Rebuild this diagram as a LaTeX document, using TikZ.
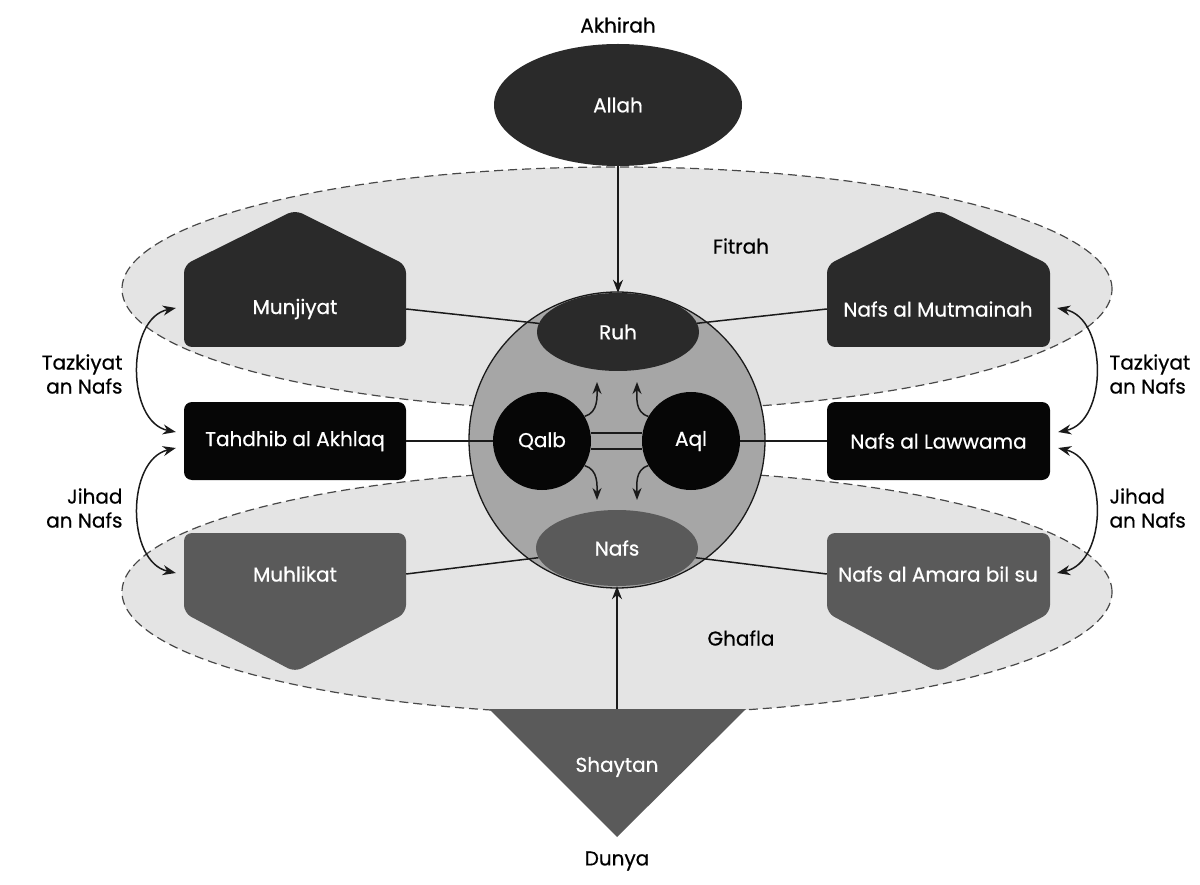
\documentclass[tikz,border=0pt]{standalone}
\usepackage{fontspec}
\setmainfont{Poppins}[FakeBold=0.6]
\usetikzlibrary{arrows.meta,shapes.geometric}
\definecolor{dk}{HTML}{2A2A2A}
\definecolor{bk}{HTML}{060606}
\definecolor{md}{HTML}{5A5A5A}
\definecolor{cg}{HTML}{A6A6A6}
\definecolor{lg}{HTML}{E4E4E4}
\definecolor{ln}{HTML}{1A1A1A}
\tikzset{
  lbl/.style={font=\fontsize{20}{24}\selectfont, text=black},
  wt/.style={font=\fontsize{20}{24}\selectfont, text=white},
  zone/.style={ellipse, draw=ln!80, dashed, dash pattern=on 9pt off 5pt, line width=1.2pt, fill=lg, minimum width=990, minimum height=244, inner sep=0},
  body/.style={wt, minimum width=222, inner sep=0},
  conn/.style={draw=ln, line width=1.5pt},
  arr/.style={draw=ln, line width=1.5pt, -{Stealth[length=13pt,width=10pt]}},
  darr/.style={draw=ln, line width=1.5pt, {Stealth[length=13pt,width=10pt]}-{Stealth[length=13pt,width=10pt]}},
  sarr/.style={draw=ln, line width=1.5pt, -{Stealth[length=12pt,width=9pt]}},
}
\begin{document}
\begin{tikzpicture}[x=1pt,y=-1pt]
\useasboundingbox (0,0) rectangle (1200,885);
% zones
\node[zone] (fitrah) at (617,289) {};
\node[zone] (ghafla) at (617,592) {};
\node[lbl] (fitrahT) at (741,246) {Fitrah};
\node[lbl] (ghaflaT) at (741,638) {Ghafla};
% top / bottom labels
\node[lbl] (akhirah) at (618,25) {Akhirah};
\node[lbl] (dunya) at (617,861) {Dunya};
% Allah
\node[ellipse, fill=dk, minimum width=248, minimum height=122, inner sep=0, wt] (allah) at (618,105) {Allah};
% Shaytan triangle
\fill[md] (489,709) -- (746,709) -- (617,837) -- cycle;
\node[wt] (shaytan) at (617,767) {Shaytan};
\coordinate (shtop) at (617,709);
% big circle
\node[circle, fill=cg, draw=ln, line width=1.3pt, minimum size=296, inner sep=0] (soul) at (617,440) {};
% houses (top)
\fill[dk, rounded corners=8pt] (184,347) -- (184,265) -- (295,210) -- (406,265) -- (406,347) -- cycle;
\fill[dk, rounded corners=8pt] (827,347) -- (827,265) -- (938,210) -- (1050,265) -- (1050,347) -- cycle;
\node[body, minimum height=82] (munj) at (295,309) {Munjiyat};
\node[body, minimum height=82] (mutm) at (938,309) {Nafs al Mutmainah};
% middle boxes
\node[body, fill=bk, rounded corners=8pt, minimum height=78] (tahd) at (295,441) {Tahdhib al Akhlaq};
\node[body, fill=bk, rounded corners=8pt, minimum width=223, minimum height=78] (laww) at (938.5,441) {Nafs al Lawwama};
% lower pentagons
\fill[md, rounded corners=8pt] (184,533) -- (184,613) -- (295,672) -- (406,613) -- (406,533) -- cycle;
\fill[md, rounded corners=8pt] (827,533) -- (827,613) -- (938,672) -- (1050,613) -- (1050,533) -- cycle;
\node[body, minimum height=80] (muhl) at (295,574) {Muhlikat};
\node[body, minimum height=80] (amara) at (938,574) {Nafs al Amara bil su};
% inner nodes
\node[ellipse, fill=dk, minimum width=162, minimum height=78, inner sep=0, wt] (ruh) at (618,332) {Ruh};
\node[ellipse, fill=md, minimum width=162, minimum height=76, inner sep=0, wt] (nafs) at (617,548) {Nafs};
\node[circle, fill=bk, minimum size=98, inner sep=0, wt] (qalb) at (542,441) {Qalb};
\node[circle, fill=bk, minimum size=98, inner sep=0, wt] (aql) at (691,441) {Aql};
% connectors
\draw[conn] (munj.east) -- (ruh);
\draw[conn] (mutm.west) -- (ruh);
\draw[conn] (tahd.east) -- (qalb.west);
\draw[conn] (aql.east) -- (laww.west);
\draw[conn] (muhl.east) -- (nafs);
\draw[conn] (amara.west) -- (nafs);
\draw[conn] ([yshift=-8]qalb.east) -- ([yshift=-8]aql.west);
\draw[conn] ([yshift=8]qalb.east) -- ([yshift=8]aql.west);
% vertical arrows
\draw[arr] (allah.south) -- (ruh.north);
\draw[arr] (shtop) -- (nafs.south);
% inner curved arrows
\draw[sarr] (qalb.30) .. controls +(14,-4) and +(0,14) .. ([xshift=55,yshift=59]qalb.center);
\draw[sarr] (aql.150) .. controls +(-14,-4) and +(0,14) .. ([xshift=-54,yshift=59]aql.center);
\draw[sarr] (qalb.-30) .. controls +(14,4) and +(0,-14) .. ([xshift=55,yshift=-59]qalb.center);
\draw[sarr] (aql.-150) .. controls +(-14,4) and +(0,-14) .. ([xshift=-54,yshift=-59]aql.center);
% side double arrows
\draw[darr] ([xshift=-8,yshift=1]munj.west) .. controls (126,318) and (126,422) .. ([xshift=-8,yshift=9]tahd.west);
\draw[darr] ([xshift=-8,yshift=-7]tahd.west) .. controls (126,460) and (126,562) .. ([xshift=-8,yshift=1]muhl.west);
\draw[darr] ([xshift=8,yshift=1]mutm.east) .. controls (1108,318) and (1108,422) .. ([xshift=8,yshift=9]laww.east);
\draw[darr] ([xshift=8,yshift=-7]laww.east) .. controls (1108,460) and (1108,562) .. ([xshift=8,yshift=1]amara.east);
% side labels
\node[lbl, align=right, anchor=east] (tzL) at (126,374) {Tazkiyat\\an Nafs};
\node[lbl, align=right, anchor=east] (jhL) at (126,508) {Jihad\\an Nafs};
\node[lbl, align=left, anchor=west] (tzR) at (1106,374) {Tazkiyat\\an Nafs};
\node[lbl, align=left, anchor=west] (jhR) at (1106,508) {Jihad\\an Nafs};
\end{tikzpicture}
\end{document}
